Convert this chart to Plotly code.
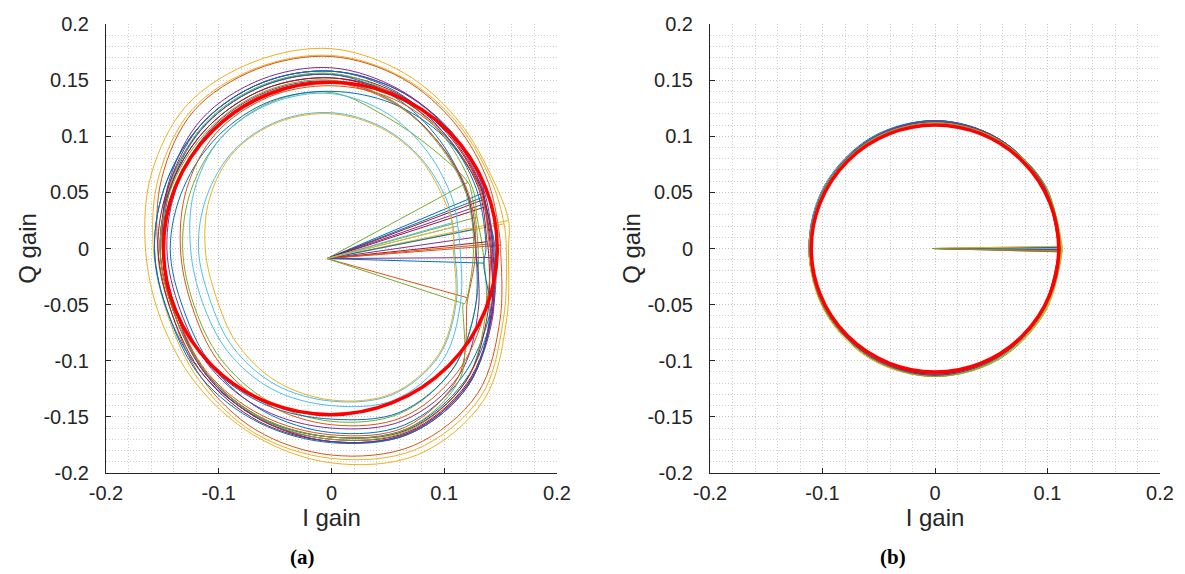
import numpy as np
import plotly.graph_objects as go

# MATLAB default line colour order
BLUE, ORANGE, YELLOW, PURPLE = "#0072BD", "#D95319", "#EDB120", "#7E2F8E"
GREEN, LIGHTBLUE, DARKRED = "#77AC30", "#4DBEEE", "#A2142F"

# ---------------- panel (a): uncorrected gain trajectories ----------------
# loop radius (about the origin) sampled every 22.5 degrees
angles_a_deg = [0, 22.5, 45, 67.5, 90, 112.5, 135, 157.5,
                180, 202.5, 225, 247.5, 270, 292.5, 315, 337.5]
colors_a = [YELLOW, YELLOW, ORANGE, GREEN, BLUE, BLUE, DARKRED, PURPLE,
            DARKRED, GREEN, LIGHTBLUE, BLUE, PURPLE, DARKRED, ORANGE,
            PURPLE, BLUE, ORANGE, GREEN, LIGHTBLUE, YELLOW]
spoke_end_x_a = [0.157, 0.153, 0.150, 0.121, 0.1345, 0.135, 0.136, 0.136,
                 0.136, 0.129, 0.107, 0.126, 0.127, 0.138, 0.140,
                 0.142, 0.135, 0.121, 0.117, 0.112, 0.108]
spoke_end_y_a = [0.025, 0.022, 0.003, 0.059, 0.0495, 0.046, 0.044, 0.040,
                 0.037, 0.028, 0.023, 0.017, 0.010, 0.006, 0.004,
                 -0.008, -0.013, -0.044, -0.049, 0.020, 0.019]
radii_a = [
    [.157, .156, .160, .169, .178, .180, .181, .173, .165, .164, .170, .180, .191, .199, .191, .168],
    [.155, .154, .158, .165, .172, .174, .175, .166, .158, .157, .166, .178, .187, .194, .187, .165],
    [.150, .151, .156, .164, .171, .173, .173, .163, .154, .153, .163, .175, .184, .190, .183, .162],
    [.130, .134, .126, .127, .139, .141, .139, .135, .132, .132, .139, .147, .154, .159, .152, .138],
    [.145, .146, .149, .153, .158, .160, .160, .158, .157, .156, .160, .164, .168, .174, .167, .154],
    [.144, .143, .141, .140, .140, .142, .142, .142, .143, .142, .149, .157, .164, .170, .163, .152],
    [.143, .144, .146, .149, .152, .154, .154, .153, .152, .151, .158, .165, .170, .177, .170, .154],
    [.142, .144, .148, .154, .161, .163, .163, .156, .150, .149, .158, .165, .172, .178, .171, .154],
    [.141, .143, .145, .150, .155, .157, .157, .155, .154, .153, .160, .167, .172, .179, .172, .153],
    [.134, .136, .141, .148, .156, .158, .158, .154, .150, .149, .157, .164, .170, .176, .168, .148],
    [.109, .111, .113, .117, .121, .123, .123, .120, .118, .117, .124, .131, .136, .141, .135, .120],
    [.128, .130, .136, .146, .155, .157, .157, .153, .149, .148, .150, .151, .152, .158, .152, .138],
    [.128, .130, .134, .142, .149, .151, .151, .148, .146, .145, .151, .156, .160, .166, .160, .141],
    [.139, .141, .143, .147, .152, .154, .154, .153, .152, .151, .157, .163, .168, .175, .168, .150],
    [.141, .142, .142, .144, .145, .146, .145, .139, .134, .134, .142, .150, .157, .163, .157, .147],
    [.143, .145, .148, .153, .158, .160, .160, .155, .150, .149, .158, .165, .172, .178, .171, .155],
    [.137, .139, .143, .151, .158, .160, .160, .158, .157, .156, .163, .168, .173, .179, .172, .152],
    [.128, .131, .134, .141, .148, .150, .150, .150, .150, .149, .156, .161, .166, .172, .160, .130],
    [.126, .129, .133, .142, .150, .152, .152, .152, .152, .151, .157, .163, .168, .174, .162, .128],
    [.114, .116, .121, .130, .138, .140, .139, .132, .125, .124, .130, .136, .140, .146, .140, .124],
    [.108, .109, .112, .116, .120, .122, .122, .117, .112, .111, .119, .128, .135, .140, .134, .119],
]
spoke_origin_a = (-0.004, -0.009)
ref_center_a = (-0.001, 0.0)
ref_radius_a = 0.148

# ---------------- panel (b): corrected gain trajectories ----------------
angles_b_deg = [0, 30, 60, 90, 120, 150, 180, 210, 240, 270, 300, 330]
colors_b = [BLUE, ORANGE, YELLOW, PURPLE, GREEN, LIGHTBLUE, DARKRED,
            BLUE, ORANGE, YELLOW, PURPLE, GREEN]
spoke_end_x_b = [0.111, 0.110, 0.112, 0.111, 0.113, 0.111, 0.110,
                 0.111, 0.111, 0.113, 0.111, 0.112]
spoke_end_y_b = [0.001, -0.002, 0.002, -0.001, -0.003, 0.000, -0.002,
                 0.001, -0.003, 0.002, -0.001, -0.002]
radii_b = [
    [.111, .112, .113, .114, .114, .113, .112, .112, .112, .112, .112, .111],
    [.110, .111, .112, .113, .113, .112, .111, .111, .112, .112, .111, .110],
    [.112, .112, .112, .113, .112, .112, .112, .112, .113, .114, .113, .112],
    [.111, .112, .113, .114, .113, .113, .112, .111, .112, .112, .112, .111],
    [.113, .113, .112, .113, .112, .112, .111, .112, .113, .114, .114, .113],
    [.111, .112, .113, .113, .113, .113, .112, .112, .112, .113, .112, .111],
    [.110, .111, .112, .113, .112, .112, .111, .111, .112, .112, .111, .110],
    [.111, .112, .113, .114, .113, .112, .112, .112, .113, .113, .112, .111],
    [.111, .111, .112, .113, .112, .112, .111, .112, .113, .113, .112, .111],
    [.113, .112, .112, .112, .112, .111, .112, .113, .114, .114, .113, .113],
    [.111, .112, .113, .113, .113, .112, .111, .112, .112, .113, .112, .111],
    [.112, .113, .112, .112, .112, .112, .111, .112, .113, .114, .113, .112],
]
spoke_origin_b = (-0.002, 0.0)
ref_center_b = (0.0, 0.0)
ref_radius_b = 0.110

# axis ticks
tick_vals_x = [-0.2, -0.1, 0, 0.1, 0.2]
tick_text_x = ["-0.2", "-0.1", "0", "0.1", "0.2"]
tick_vals_y = [-0.2, -0.15, -0.1, -0.05, 0, 0.05, 0.1, 0.15, 0.2]
tick_text_y = ["-0.2", "-0.15", "-0.1", "-0.05", "0", "0.05", "0.1", "0.15", "0.2"]


def loop_path(angles_deg, radii, sx, sy):
    """Polar samples -> x/y path that starts and ends at the spoke tip."""
    ang = np.asarray(angles_deg, dtype=float)
    r = np.asarray(radii, dtype=float)
    px = r * np.cos(np.radians(ang))
    py = r * np.sin(np.radians(ang))
    a0 = np.degrees(np.arctan2(sy, sx)) % 360
    order = np.argsort((ang - a0) % 360)
    xs = [sx] + list(px[order]) + [sx]
    ys = [sy] + list(py[order]) + [sy]
    return xs, ys


fig = go.Figure()


def add_panel(angles, radii_rows, colors, ex, ey, origin, xa, ya):
    for radii, c, sx, sy in zip(radii_rows, colors, ex, ey):
        fig.add_trace(go.Scatter(
            x=[origin[0], sx], y=[origin[1], sy], mode="lines",
            line=dict(color=c, width=1), xaxis=xa, yaxis=ya,
            showlegend=False, hoverinfo="skip"))
        lx, ly = loop_path(angles, radii, sx, sy)
        fig.add_trace(go.Scatter(
            x=lx, y=ly, mode="lines",
            line=dict(color=c, width=1, shape="spline", smoothing=1.0),
            xaxis=xa, yaxis=ya, showlegend=False, hoverinfo="skip"))


add_panel(angles_a_deg, radii_a, colors_a, spoke_end_x_a, spoke_end_y_a,
          spoke_origin_a, "x", "y")
add_panel(angles_b_deg, radii_b, colors_b, spoke_end_x_b, spoke_end_y_b,
          spoke_origin_b, "x2", "y2")

# reference circles on top
shapes = []
for (cx, cy), r, xr, yr in [(ref_center_a, ref_radius_a, "x", "y"),
                            (ref_center_b, ref_radius_b, "x2", "y2")]:
    shapes.append(dict(type="circle", xref=xr, yref=yr,
                       x0=cx - r, x1=cx + r, y0=cy - r, y1=cy + r,
                       line=dict(color="#FF0000", width=3.5), layer="above"))

AX = "#262626"
GRID_DASH = "1px,2px"
tick_font = dict(family="Liberation Sans, Arial, sans-serif", size=20, color=AX)
title_font = dict(family="Liberation Sans, Arial, sans-serif", size=24, color=AX)


def xaxis_cfg(domain, anchor):
    return dict(domain=domain, anchor=anchor, range=[-0.2, 0.2],
                tickmode="array", tickvals=tick_vals_x, ticktext=tick_text_x,
                showline=True, linecolor=AX, linewidth=1, mirror=False,
                ticks="inside", ticklen=5, tickcolor=AX, tickwidth=1,
                showgrid=True, gridcolor="#c4c4c4", griddash=GRID_DASH, gridwidth=1,
                minor=dict(tick0=-0.2, dtick=0.02, showgrid=True,
                           gridcolor="#cfcfcf", griddash=GRID_DASH, gridwidth=1),
                zeroline=False, tickfont=tick_font, ticklabelstandoff=2,
                title=dict(text="I gain", font=title_font, standoff=6),
                automargin=False)


def yaxis_cfg(domain, anchor):
    return dict(domain=domain, anchor=anchor, range=[-0.2, 0.2],
                tickmode="array", tickvals=tick_vals_y, ticktext=tick_text_y,
                showline=True, linecolor=AX, linewidth=1, mirror=False,
                ticks="inside", ticklen=5, tickcolor=AX, tickwidth=1,
                showgrid=True, gridcolor="#c4c4c4", griddash=GRID_DASH, gridwidth=1,
                minor=dict(tick0=-0.2, dtick=0.01, showgrid=True,
                           gridcolor="#cfcfcf", griddash=GRID_DASH, gridwidth=1),
                zeroline=False, tickfont=tick_font, ticklabelstandoff=12,
                title=dict(text="Q gain", font=title_font, standoff=0),
                automargin=False)


W, H = 1185, 574
yd = [1 - 473 / H, 1 - 24 / H]
label_font = dict(family="Liberation Serif, serif", size=21, color="black")
fig.update_layout(
    width=W, height=H, margin=dict(l=0, r=0, t=0, b=0),
    paper_bgcolor="white", plot_bgcolor="white",
    xaxis=xaxis_cfg([106 / W, 557 / W], "y"),
    yaxis=yaxis_cfg(yd, "x"),
    xaxis2=xaxis_cfg([710 / W, 1160 / W], "y2"),
    yaxis2=yaxis_cfg(yd, "x2"),
    shapes=shapes,
    annotations=[
        dict(text="<b>(a)</b>", x=302 / W, y=1 - 557 / H, xref="paper", yref="paper",
             xanchor="center", yanchor="middle", showarrow=False, font=label_font),
        dict(text="<b>(b)</b>", x=893 / W, y=1 - 557 / H, xref="paper", yref="paper",
             xanchor="center", yanchor="middle", showarrow=False, font=label_font),
    ],
)

fig.write_html("out.html")
